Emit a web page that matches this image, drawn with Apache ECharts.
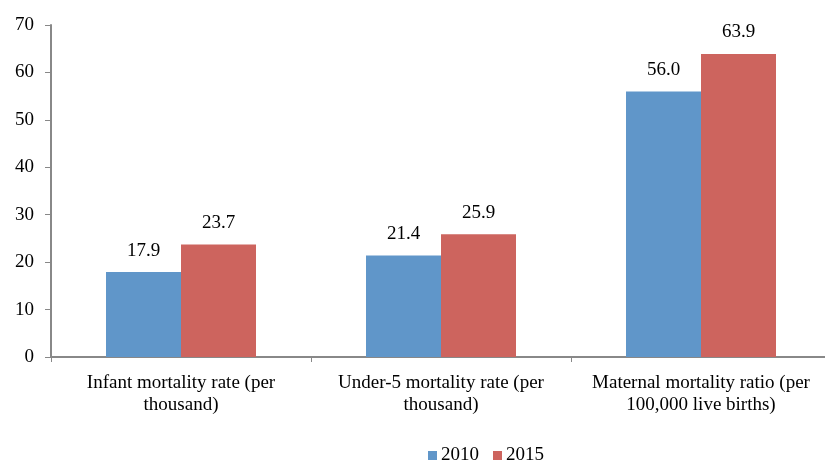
<!DOCTYPE html>
<html>
<head>
<meta charset="utf-8">
<script src="https://cdn.jsdelivr.net/npm/echarts@6/dist/echarts.min.js"></script>
<style>
  html, body { margin: 0; padding: 0; background: #fff; }
  #chart { width: 825px; height: 462px; }
</style>
</head>
<body>
<div id="chart"></div>
<script>
const categories = [
  'Infant mortality rate (per\nthousand)',
  'Under-5 mortality rate (per\nthousand)',
  'Maternal mortality ratio (per\n100,000 live births)'
]
const values2010 = [17.9, 21.4, 56.0]
const values2015 = [23.7, 25.9, 63.9]
const seriesNames = ['2010', '2015']

const font = '"Liberation Serif", "Times New Roman", serif'
const chart = echarts.init(document.getElementById('chart'))

const labelStyle = {
  show: true,
  position: 'top',
  distance: 12,
  color: '#000',
  fontFamily: font,
  fontSize: 19,
  formatter: p => p.value.toFixed(1)
}

chart.setOption({
  animation: false,
  textStyle: { fontFamily: font },
  legend: {
    data: seriesNames,
    left: 423,
    top: 441,
    itemWidth: 9,
    itemHeight: 9,
    itemGap: 14,
    icon: 'rect',
    textStyle: { color: '#000', fontSize: 19, fontFamily: font, padding: [0, 0, 0, -1] }
  },
  grid: {
    left: 51,
    width: 780,
    top: 25,
    bottom: 105,
    outerBoundsMode: 'none'
  },
  xAxis: {
    type: 'category',
    data: categories,
    axisLine: { lineStyle: { color: '#888', width: 2 } },
    axisTick: { show: true, length: 5, lineStyle: { color: '#888' } },
    axisLabel: {
      color: '#000',
      fontSize: 19,
      fontFamily: font,
      lineHeight: 22,
      margin: 15,
      interval: 0
    }
  },
  yAxis: {
    type: 'value',
    min: 0,
    max: 70,
    interval: 10,
    axisLine: { show: true, lineStyle: { color: '#888', width: 2 } },
    axisTick: { show: true, length: 6, lineStyle: { color: '#888' } },
    splitLine: { show: false },
    axisLabel: { color: '#000', fontSize: 19, fontFamily: font, margin: 17 }
  },
  series: [
    {
      name: seriesNames[0],
      type: 'bar',
      data: values2010,
      barWidth: 75,
      barGap: '0%',
      itemStyle: { color: '#6096c9' },
      label: labelStyle
    },
    {
      name: seriesNames[1],
      type: 'bar',
      data: values2015,
      barWidth: 75,
      barGap: '0%',
      itemStyle: { color: '#cd645e' },
      label: labelStyle
    }
  ]
})
</script>
</body>
</html>
